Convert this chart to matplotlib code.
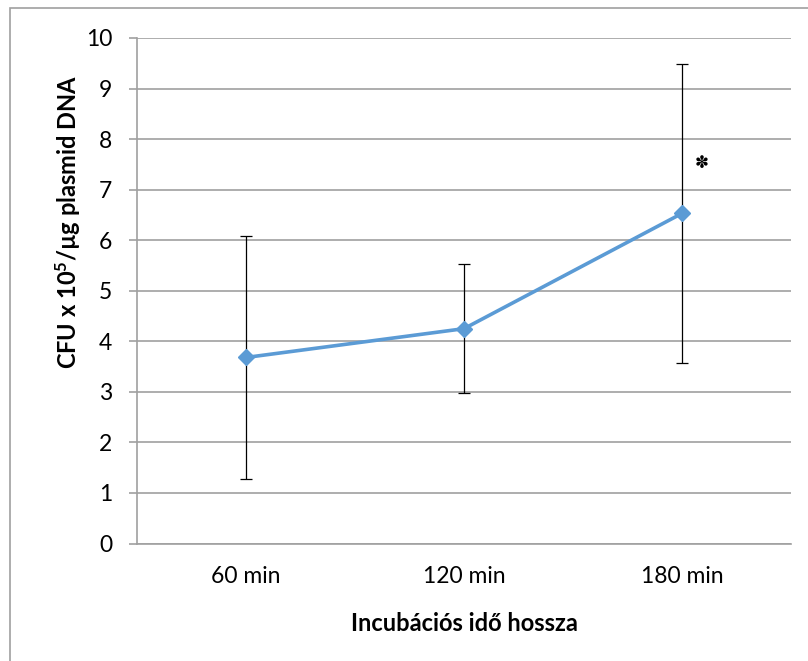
import matplotlib.pyplot as plt
import matplotlib.patches as mpatches

plt.rcParams["font.family"] = ["Lato", "DejaVu Sans"]
plt.rcParams["mathtext.default"] = "regular"

# data
categories = ["60 min", "120 min", "180 min"]
cfu_mean = [3.68, 4.25, 6.53]
cfu_err = [2.41, 1.28, 2.96]
y_ticks = list(range(0, 11))
star_index = 2
star_value = 7.52

line_blue = "#5B9BD5"
grid_grey = "#a0a0a0"

fig = plt.figure(figsize=(8.08, 6.61), dpi=100)
ax = fig.add_axes([137 / 808, 1 - 543.5 / 661, (791 - 137) / 808, (543.5 - 38) / 661])

x = list(range(len(categories)))
ax.errorbar(x, cfu_mean, yerr=cfu_err, fmt="none", ecolor="black",
            elinewidth=0.9, capsize=4.3, capthick=0.9, zorder=2)
ax.plot(x, cfu_mean, color=line_blue, lw=2.6, marker="D", ms=8.5,
        mec=line_blue, mfc=line_blue, zorder=3)

# significance mark next to the 180 min point
ax.annotate("\u273d", xy=(star_index, star_value), xytext=(14, 0),
            textcoords="offset points", ha="center", va="center",
            fontsize=12, fontweight="bold", family="DejaVu Sans")

ax.set_xlim(-0.5, len(categories) - 0.5)
ax.set_ylim(0, 10)
ax.set_yticks(y_ticks)
ax.set_xticks(x)
ax.set_xticklabels(categories)
ax.yaxis.grid(True, color=grid_grey, lw=1.2)
ax.set_axisbelow(True)

for side in ("top", "right"):
    ax.spines[side].set_visible(False)
for side in ("left", "bottom"):
    ax.spines[side].set_color(grid_grey)
    ax.spines[side].set_linewidth(1.2)

ax.tick_params(axis="y", direction="out", length=6, width=1.2, color=grid_grey,
               labelsize=16.5, pad=12)
ax.tick_params(axis="x", length=0, labelsize=16.5, pad=16)

ax.set_xlabel("Incubációs idő hossza", fontsize=17, fontweight="bold")
ax.set_ylabel("CFU x 10$^{5}$/µg plasmid DNA", fontsize=17, fontweight="bold")
ax.xaxis.set_label_coords(0.5, -0.135)
ax.yaxis.set_label_coords(-0.082, 0.636)

# outer chart border (only top and left fall inside the image)
fig.patches.append(mpatches.Rectangle((10 / 808, -0.1), 1.2, 1.1 - 8 / 661,
                                      transform=fig.transFigure, fill=False,
                                      edgecolor=grid_grey, lw=1.2))

fig.savefig("out.png", dpi=100)
